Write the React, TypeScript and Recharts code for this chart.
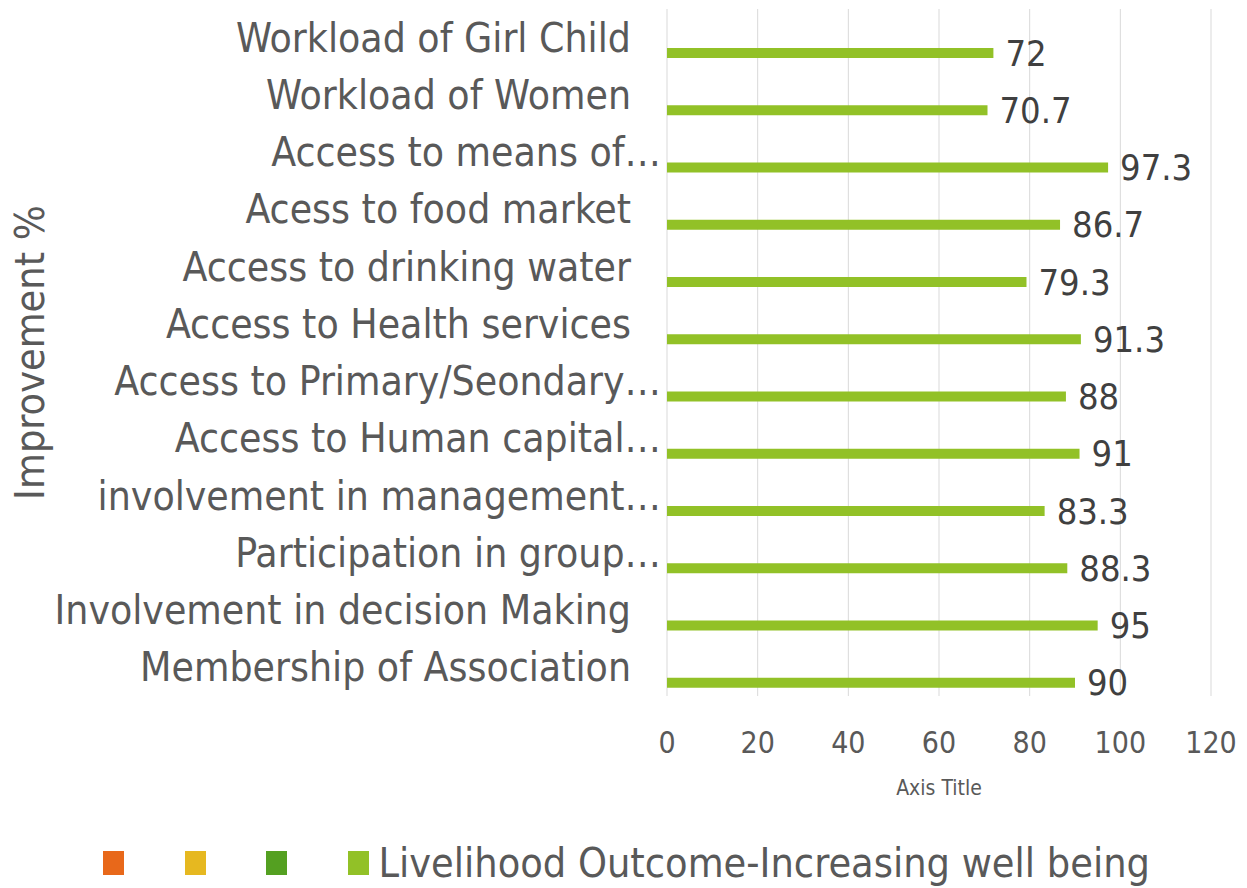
import { BarChart, Bar, XAxis, YAxis, CartesianGrid, Legend, LabelList } from 'recharts';

const categories = [
    'Workload of Girl Child ',
    'Workload of Women ',
    'Access to means of…',
    'Acess to food market ',
    'Access to drinking water ',
    'Access to Health services ',
    'Access to Primary/Seondary…',
    'Access to Human capital…',
    'involvement in management…',
    'Participation in group…',
    'Involvement in decision Making ',
    'Membership of Association ',
];
const wellBeing = [72, 70.7, 97.3, 86.7, 79.3, 91.3, 88, 91, 83.3, 88.3, 95, 90];
const seriesKeys = ['s1', 's2', 's3', 'wellBeing'];
const seriesNames = ['', '', '', 'Livelihood Outcome-Increasing well being'];
const seriesColors = ['#E8681A', '#E6B820', '#54A021', '#92C127'];
const xTicks = [0, 20, 40, 60, 80, 100, 120];

const data = categories.map((name, i) => ({ name, wellBeing: wellBeing[i] }));

const FONT = "'Liberation Sans Narrow', 'DejaVu Sans Condensed', 'DejaVu Sans', sans-serif";

function CategoryTick(props: any) {
    const { x, y, payload } = props;
    const label: string = payload.value;
    const truncated = label.endsWith('…');
    return (
        <text
            x={truncated ? x - 6 : x - 36}
            y={y}
            textAnchor="end"
            dominantBaseline="central"
            fontFamily={FONT}
            fontSize={40.5}
            fill="#595959"
        >
            {label.trim()}
        </text>
    );
}

function ValueTick(props: any) {
    const { x, y, payload } = props;
    return (
        <text x={x} y={y + 46} textAnchor="middle" dominantBaseline="central" fontFamily={FONT} fontSize={30} fill="#595959">
            {payload.value}
        </text>
    );
}

function ValueLabel(props: any) {
    const { x, y, width, height, value } = props;
    return (
        <text x={x + width + 12} y={y + height / 2} dominantBaseline="central" fontFamily={FONT} fontSize={36} fill="#404040">
            {value}
        </text>
    );
}

function LegendContent() {
    return (
        <div style={{ position: 'relative', height: 72, width: 1247, fontFamily: FONT }}>
            {seriesNames.map((name, i) => (
                <div key={i} style={{ position: 'absolute', left: 103 + i * 81.5, top: 35, display: 'flex', alignItems: 'center' }}>
                    <div style={{ width: 21, height: 24, background: seriesColors[i] }} />
                    {name && (
                        <span style={{ marginLeft: 10, fontSize: 41, color: '#595959', lineHeight: '24px', whiteSpace: 'nowrap' }}>{name}</span>
                    )}
                </div>
            ))}
        </div>
    );
}

export default function App() {
    return (
        <div style={{ position: 'absolute', left: 0, top: 0, background: '#fff' }}>
            <BarChart
                width={1247}
                height={888}
                data={data}
                layout="vertical"
                margin={{ top: 9, right: 36, left: 0, bottom: 0 }}
                barSize={10}
                barGap={0}
            >
                <CartesianGrid horizontal={false} stroke="#d9d9d9" />
                <XAxis
                    type="number"
                    domain={[0, 120]}
                    ticks={xTicks}
                    height={120}
                    axisLine={false}
                    tickLine={false}
                    tickSize={0}
                    tickMargin={0}
                    tick={<ValueTick />}
                    label={{
                        content: (p: any) => (
                            <text
                                x={p.viewBox.x + p.viewBox.width / 2}
                                y={p.viewBox.y + 92}
                                textAnchor="middle"
                                dominantBaseline="central"
                                fontFamily={FONT}
                                fontSize={21}
                                fill="#595959"
                            >
                                Axis Title
                            </text>
                        ),
                    }}
                />
                <YAxis
                    type="category"
                    dataKey="name"
                    width={667}
                    axisLine={false}
                    tickLine={false}
                    tickSize={0}
                    tickMargin={0}
                    interval={0}
                    tick={<CategoryTick />}
                    label={{
                        content: (p: any) => (
                            <text
                                x={30}
                                y={p.viewBox.y + p.viewBox.height / 2}
                                textAnchor="middle"
                                dominantBaseline="central"
                                transform={`rotate(-90, 30, ${p.viewBox.y + p.viewBox.height / 2})`}
                                fontFamily={FONT}
                                fontSize={41}
                                fill="#595959"
                            >
                                Improvement %
                            </text>
                        ),
                    }}
                />
                <Legend verticalAlign="bottom" content={<LegendContent />} />
                {seriesKeys.map((key, i) => (
                    <Bar key={key} dataKey={key} name={seriesNames[i]} fill={seriesColors[i]} isAnimationActive={false}>
                        {key === 'wellBeing' && <LabelList dataKey="wellBeing" content={<ValueLabel />} />}
                    </Bar>
                ))}
            </BarChart>
        </div>
    );
}
